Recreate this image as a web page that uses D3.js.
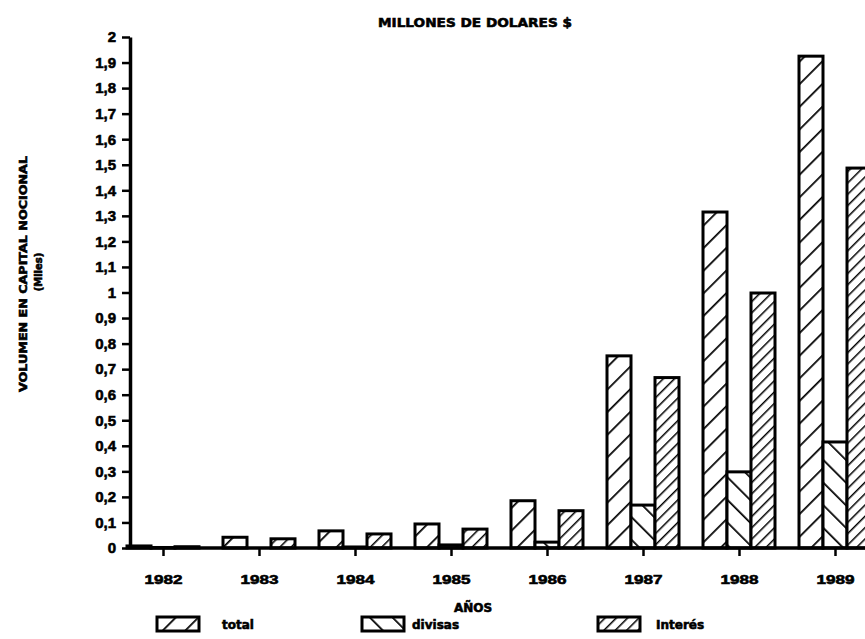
<!DOCTYPE html>
<html>
<head>
<meta charset="utf-8">
<script src="https://cdn.jsdelivr.net/npm/d3@7"></script>
<style>
  body { margin: 0; background: #fff; }
  svg { display: block; font-family: "DejaVu Sans", "Liberation Sans", sans-serif; font-weight: bold; }
  text { stroke: #000; stroke-width: 0.6px; }
</style>
</head>
<body>
<svg id="chart" width="865" height="639"></svg>
<script>
// data (millions of US$)
const years = ["1982", "1983", "1984", "1985", "1986", "1987", "1988", "1989"];
const series = ["total", "divisas", "Interés"];
const total   = [0.008, 0.042, 0.067, 0.094, 0.185, 0.752, 1.315, 1.925];
const divisas = [0.002, 0.000, 0.004, 0.012, 0.023, 0.168, 0.298, 0.415];
const interes = [0.005, 0.036, 0.055, 0.074, 0.146, 0.667, 0.998, 1.487];
const yTicks = d3.range(0, 21).map(i => i / 10);

const svg = d3.select("#chart");

// hatch patterns: total "/", divisas "\", interes dense "/"
const defs = svg.append("defs");
function hatch(id, size, angle, w) {
    const p = defs.append("pattern")
        .attr("id", id)
        .attr("patternUnits", "userSpaceOnUse")
        .attr("width", size).attr("height", size)
        .attr("patternTransform", `rotate(${angle})`);
    p.append("rect").attr("width", size).attr("height", size).attr("fill", "#fff");
    p.append("line")
        .attr("x1", 0).attr("y1", 0).attr("x2", 0).attr("y2", size)
        .attr("stroke", "#000").attr("stroke-width", w);
}
hatch("h-total", 16, 45, 3.5);
hatch("h-divisas", 16, -45, 3.5);
hatch("h-interes", 8, 45, 3);
const fills = ["url(#h-total)", "url(#h-divisas)", "url(#h-interes)"];

const y = d3.scaleLinear().domain([0, 2]).range([548, 37]);
const x = d3.scalePoint().domain(years).range([163, 835]);
const sub = d3.scaleBand().domain(series).range([-36, 36]);

const rows = years.map((yr, i) => ({ year: yr, values: [total[i], divisas[i], interes[i]] }));

// bars
const g = svg.append("g");
rows.forEach(r => {
    r.values.forEach((v, j) => {
        g.append("rect")
            .attr("x", x(r.year) + sub(series[j]))
            .attr("y", y(v))
            .attr("width", sub.bandwidth())
            .attr("height", y(0) - y(v))
            .attr("fill", fills[j])
            .attr("stroke", "#000")
            .attr("stroke-width", 3);
    });
});

// y axis
const yAxis = d3.axisLeft(y)
    .tickValues(yTicks)
    .tickSize(8)
    .tickSizeOuter(0)
    .tickFormat(d => d3.format("~g")(d).replace(".", ","));
const ya = svg.append("g").attr("transform", "translate(130,0)").call(yAxis);
ya.select(".domain").attr("stroke-width", 3.5);
ya.selectAll(".tick line").attr("stroke-width", 2.5);
ya.selectAll(".tick text").attr("font-size", 15).attr("font-weight", "bold").attr("x", -14);

// x axis
const xAxis = d3.axisBottom(x).tickSize(8).tickSizeOuter(0);
const xa = svg.append("g").attr("transform", "translate(0,548)").call(xAxis);
xa.select(".domain").attr("d", "M130,0H865").attr("stroke-width", 3.5);
xa.selectAll(".tick line").attr("stroke-width", 2.5);
xa.selectAll(".tick text").attr("font-size", 13).attr("font-weight", "bold")
    .attr("y", 27).attr("textLength", 38).attr("lengthAdjust", "spacingAndGlyphs");

// titles
svg.append("text").attr("x", 475).attr("y", 27)
    .attr("text-anchor", "middle").attr("font-size", 13)
    .attr("textLength", 194).attr("lengthAdjust", "spacingAndGlyphs")
    .text("MILLONES DE DOLARES $");

svg.append("text").attr("x", 473).attr("y", 612)
    .attr("text-anchor", "middle").attr("font-size", 12)
    .text("AÑOS");

svg.append("text")
    .attr("transform", "translate(27,274) rotate(-90)")
    .attr("text-anchor", "middle").attr("font-size", 11)
    .attr("textLength", 236).attr("lengthAdjust", "spacingAndGlyphs")
    .text("VOLUMEN EN CAPITAL NOCIONAL");
svg.append("text")
    .attr("transform", "translate(42,272) rotate(-90)")
    .attr("text-anchor", "middle").attr("font-size", 10)
    .text("(Miles)");

// legend
const legendX = [157, 362, 598];
const legendTextX = [222, 412, 656];
series.forEach((s, j) => {
    svg.append("rect")
        .attr("x", legendX[j]).attr("y", 617)
        .attr("width", 42).attr("height", 14)
        .attr("fill", fills[j]).attr("stroke", "#000").attr("stroke-width", 3);
    svg.append("text")
        .attr("x", legendTextX[j]).attr("y", 629)
        .attr("font-size", 12)
        .text(s);
});
</script>
</body>
</html>
